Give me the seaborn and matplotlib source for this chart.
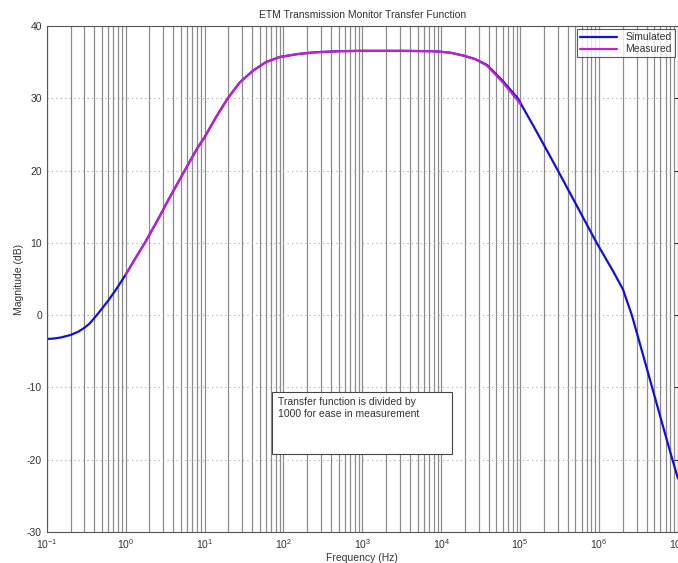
import numpy as np
import pandas as pd
import matplotlib
matplotlib.use('Agg')
import matplotlib.pyplot as plt
import matplotlib.ticker as mticker
from matplotlib.patches import Rectangle
import seaborn as sns

# valores
freq_sim = [0.1, 0.12, 0.15, 0.2, 0.25, 0.3, 0.35, 0.43, 0.5, 0.6, 0.75, 1.0, 1.3, 1.75,
            2.5, 3.5, 5.6, 8, 10, 14, 19.7, 28, 41, 60, 90, 150, 250, 500, 1e3, 3e3, 8e3,
            1.3e4, 1.9e4, 2.7e4, 3.8e4, 6e4, 9.3e4, 1.5e5, 2.2e5, 3e5, 5e5, 9.3e5, 1.5e6,
            2e6, 2.6e6, 3.5e6, 4.7e6, 6.5e6, 8.5e6, 1e7]
mag_sim = [-3.3, -3.25, -3.1, -2.75, -2.3, -1.75, -1.15, 0.0, 0.9, 2.0, 3.5, 5.6, 7.7, 10.0,
           13.0, 16.0, 20.0, 23.0, 24.6, 27.4, 30.0, 32.2, 33.8, 35.0, 35.7, 36.1, 36.35,
           36.5, 36.55, 36.55, 36.5, 36.3, 35.9, 35.4, 34.6, 32.4, 30.0, 26.0, 22.7, 20.0,
           15.5, 10.0, 6.1, 3.6, 0.0, -5.0, -10.0, -15.5, -20.0, -22.6]

freq_med = [1.0, 1.3, 1.75, 2.5, 3.5, 5.6, 8, 10, 14, 19.7, 28, 41, 60, 90, 150, 250, 500,
            1e3, 3e3, 8e3, 1.3e4, 1.9e4, 2.7e4, 3.8e4, 6e4, 9.3e4, 1e5]
mag_med = [5.6, 7.7, 10.0, 13.0, 16.0, 20.0, 23.0, 24.6, 27.4, 30.0, 32.2, 33.8, 35.0, 35.7,
           36.1, 36.35, 36.5, 36.55, 36.55, 36.5, 36.3, 35.9, 35.4, 34.5, 32.2, 29.7, 29.2]

sns.set_style('white')
plt.rcParams['font.family'] = ['Liberation Sans', 'DejaVu Sans']
plt.rcParams['axes.unicode_minus'] = False

df_sim = pd.DataFrame({'freq': freq_sim, 'mag': mag_sim})
df_med = pd.DataFrame({'freq': freq_med, 'mag': mag_med})

fig = plt.figure(figsize=(6.78, 5.63), dpi=100)
ax = fig.add_axes([0.069, 0.055, 0.931, 0.899])

sns.lineplot(data=df_sim, x='freq', y='mag', ax=ax, color='#1010e0', linewidth=1.6,
             label='Simulated', sort=False)
sns.lineplot(data=df_med, x='freq', y='mag', ax=ax, color='#c020d0', linewidth=1.6,
             label='Measured', sort=False)

ax.set_xscale('log')
ax.set_xlim(0.1, 1e7)
ax.set_ylim(-30, 40)
ax.set_yticks(range(-30, 41, 10))
ax.xaxis.set_major_locator(mticker.LogLocator(base=10, numticks=20))
ax.xaxis.set_minor_locator(mticker.LogLocator(base=10, subs=np.arange(2, 10), numticks=200))
ax.xaxis.set_minor_formatter(mticker.NullFormatter())

# grade: verticais solidas, horizontais pontilhadas
ax.grid(True, which='both', axis='x', color='#8c8c8c', linestyle='-', linewidth=0.9)
ax.grid(True, which='major', axis='y', color='#aaaaaa', linestyle=(0, (1, 3)), linewidth=0.8)
ax.set_axisbelow(True)

ax.tick_params(axis='both', which='both', direction='in', labelsize=7.5, colors='#333333',
               top=False, right=True, length=3)
ax.tick_params(axis='x', which='minor', length=0)
for s in ax.spines.values():
    s.set_color('#555555')
    s.set_linewidth(0.8)

ax.set_title('ETM Transmission Monitor Transfer Function', fontsize=7.5, color='#333333', pad=6)
ax.set_xlabel('Frequency (Hz)', fontsize=7.5, color='#333333', labelpad=2)
ax.set_ylabel('Magnitude (dB)', fontsize=7.5, color='#333333', labelpad=2)

leg = ax.legend(loc='upper right', fontsize=7.5, frameon=True, fancybox=False,
                borderaxespad=0.3, handlelength=3.5, borderpad=0.3, labelspacing=0.2)
leg.get_frame().set_edgecolor('#333333')
leg.get_frame().set_linewidth(0.8)
for t in leg.get_texts():
    t.set_color('#333333')

# caixa de texto
ax.add_patch(Rectangle((0.357, 0.154), 0.285, 0.1225, transform=ax.transAxes,
                       facecolor='white', edgecolor='#444444', linewidth=0.8, zorder=3))
ax.text(0.366, 0.266, 'Transfer function is divided by\n1000 for ease in measurement',
        transform=ax.transAxes, fontsize=7.5, color='#333333', va='top', ha='left',
        linespacing=1.15, zorder=4)

plt.savefig('out.png', dpi=100)
